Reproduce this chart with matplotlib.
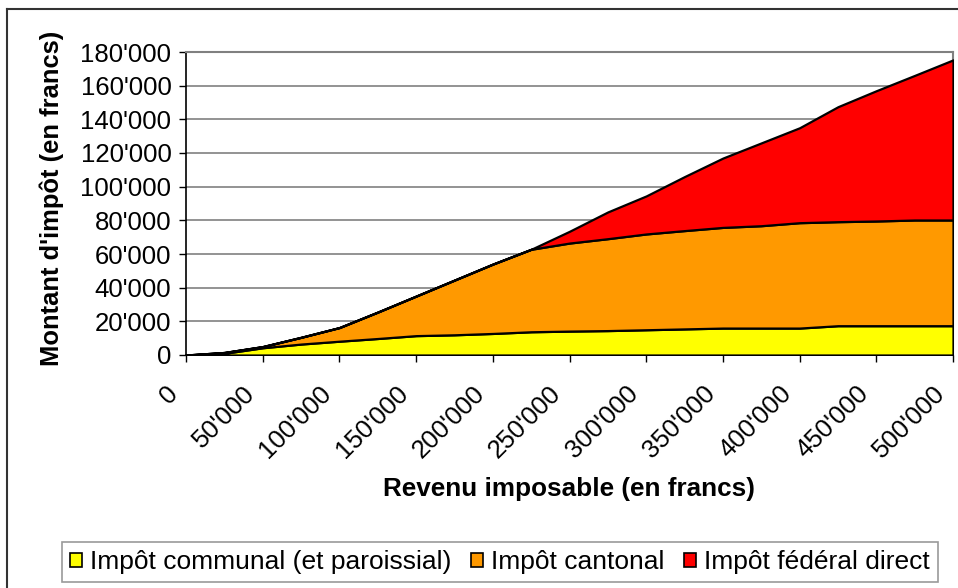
import matplotlib
matplotlib.use("Agg")
import matplotlib.pyplot as plt
from matplotlib.transforms import ScaledTranslation
from matplotlib.lines import Line2D
from matplotlib.patches import Patch

plt.rcParams['font.family'] = ['Liberation Sans', 'DejaVu Sans']

# Revenu imposable (francs)
revenu = [0, 25000, 50000, 75000, 100000, 125000, 150000, 175000, 200000, 225000,
          250000, 275000, 300000, 325000, 350000, 375000, 400000, 425000, 450000,
          475000, 500000]
# Impôt communal (et paroissial)
communal = [0, 1000, 4300, 6500, 8200, 9800, 11500, 12000, 12800, 13800,
            14200, 14500, 15000, 15500, 16000, 16000, 16000, 17400, 17400,
            17400, 17400]
# Impôt cantonal
cantonal = [0, 500, 700, 4000, 8100, 15700, 23500, 32500, 41200, 49000,
            52300, 54600, 56900, 58400, 59800, 60800, 62600, 61800, 62200,
            62800, 62800]
# Impôt fédéral direct
federal = [0, 0, 0, 0, 0, 0, 0, 0, 0, 0,
           7000, 15900, 22600, 32100, 41200, 49200, 56400, 68300, 77400,
           85900, 95100]

series_names = ["Impôt communal (et paroissial)", "Impôt cantonal", "Impôt fédéral direct"]
colors = ["#FFFF00", "#FF9900", "#FF0000"]

yticks = [0, 20000, 40000, 60000, 80000, 100000, 120000, 140000, 160000, 180000]
ytick_labels = ["0", "20'000", "40'000", "60'000", "80'000", "100'000", "120'000",
                "140'000", "160'000", "180'000"]
xticks = [0, 50000, 100000, 150000, 200000, 250000, 300000, 350000, 400000, 450000, 500000]
xtick_labels = ["0", "50'000", "100'000", "150'000", "200'000", "250'000", "300'000",
                "350'000", "400'000", "450'000", "500'000"]

W, H = 958, 588
fig = plt.figure(figsize=(W / 100, H / 100), dpi=100)
fig.patch.set_facecolor("white")

L, R, T, B = 186, 953, 52, 355
ax = fig.add_axes([L / W, 1 - B / H, (R - L) / W, (B - T) / H])

ax.stackplot(revenu, communal, cantonal, federal, colors=colors,
             edgecolor="black", linewidth=1.6, zorder=3)

ax.set_xlim(0, 500000)
ax.set_ylim(0, 180000)
ax.set_yticks(yticks)
ax.set_yticklabels(ytick_labels, fontsize=18.5)
ax.set_xticks(xticks)
ax.set_xticklabels(xtick_labels, fontsize=18.5, rotation=45, ha="right",
                   va="center", rotation_mode="anchor")

ax.grid(axis="y", color="#808080", linewidth=1.2, zorder=1)
ax.set_axisbelow(True)
ax.tick_params(axis="both", direction="out", length=5, width=1, color="black")
ax.tick_params(axis="y", pad=5.5)
ax.tick_params(axis="x", pad=20)

offset = ScaledTranslation(-0.12, 0, fig.dpi_scale_trans)
for lbl in ax.get_xticklabels():
    lbl.set_transform(lbl.get_transform() + offset)

for s in ["left", "bottom"]:
    ax.spines[s].set_color("black")
    ax.spines[s].set_linewidth(1.2)
for s in ["top", "right"]:
    ax.spines[s].set_color("#808080")
    ax.spines[s].set_linewidth(1.5)

ax.set_ylabel("Montant d'impôt (en francs)", fontsize=18.4, fontweight="bold")
ax.set_xlabel("Revenu imposable (en francs)", fontsize=18.8, fontweight="bold")
ax.yaxis.set_label_coords((52 - L) / (R - L), (B - 198) / (B - T))
ax.xaxis.set_label_coords((569 - L) / (R - L), -(489 - B) / (B - T))
ax.xaxis.label.set_va("center")
ax.yaxis.label.set_va("center")

handles = [Patch(facecolor=c, edgecolor="black", linewidth=1.2) for c in colors]
leg = fig.legend(handles, series_names, loc="center", ncol=3,
                 bbox_to_anchor=(500 / W, 1 - 562 / H), fontsize=19,
                 frameon=True, fancybox=False, edgecolor="#808080",
                 handlelength=0.45, handleheight=0.45, handletextpad=0.3,
                 columnspacing=0.75, borderpad=0.3, borderaxespad=0)
leg.get_frame().set_linewidth(1.2)

# outer chart border (left & top visible)
fig.add_artist(Line2D([7 / W, 7 / W], [0, 1 - 9 / H], transform=fig.transFigure,
                      color="#333333", linewidth=1.5))
fig.add_artist(Line2D([7 / W, 1], [1 - 9 / H, 1 - 9 / H], transform=fig.transFigure,
                      color="#333333", linewidth=1.5))

fig.savefig("out.png", dpi=100)
